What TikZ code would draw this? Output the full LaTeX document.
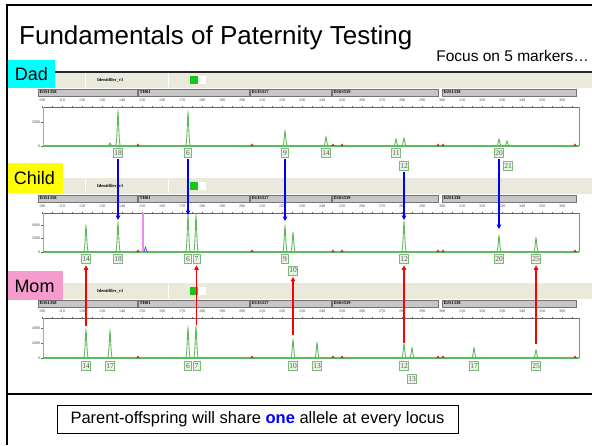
\documentclass[tikz,border=0pt]{standalone}
\usepackage{fontspec}
\setmainfont{Liberation Sans}
\newfontfamily\plotfont{Liberation Serif}
\usetikzlibrary{arrows.meta}

\definecolor{peakgreen}{RGB}{95,185,95}
\definecolor{stripbeige}{RGB}{235,232,220}
\definecolor{bargrey}{RGB}{198,198,198}
\definecolor{labelfill}{RGB}{232,244,228}
\definecolor{labeledge}{RGB}{125,185,125}
\definecolor{dadcyan}{RGB}{0,255,255}
\definecolor{childyellow}{RGB}{255,255,0}
\definecolor{mompink}{RGB}{245,155,205}
\definecolor{markred}{RGB}{200,45,45}
\definecolor{sizepink}{RGB}{240,140,240}
\definecolor{ledgreen}{RGB}{20,200,20}

\tikzset{
  frame/.style={black, line width=2.4pt},
  peak/.style={draw=peakgreen, line width=0.9pt},
  allele/.style={draw=labeledge, fill=labelfill, line width=0.6pt, inner sep=0.7pt,
    minimum height=9pt, minimum width=7pt,
    font=\plotfont\fontsize{7.5}{8}\selectfont, text=black!65},
  who/.style={inner sep=0pt, font=\fontsize{18}{20}\selectfont},
  tiny/.style={inner sep=0pt, font=\plotfont\fontsize{4}{4}\selectfont, text=black!75},
  markerbar/.style={draw=black!55, fill=bargrey, line width=0.4pt},
  dadarrow/.style={draw=blue, line width=1.4pt, shorten <=1.5pt,
    -{Triangle[length=4.5pt,width=4.5pt]}},
  momarrow/.style={draw=red, line width=1.4pt, shorten >=1.5pt,
    -{Triangle[length=4.5pt,width=4.5pt]}},
}

% one electropherogram window: #1 = top of the plot area, #2 = baseline
\newcommand\egpanel[2]{%
  \fill[stripbeige] (52,#1-35) rectangle (592,#1-19);
  \draw[white, line width=0.8pt] (85,#1-34) -- (85,#1-20) (168,#1-34) -- (168,#1-20);
  \node[inner sep=0pt, anchor=west, font=\plotfont\bfseries\fontsize{4.5}{5}\selectfont]
    at (97,#1-27) {Identifiler\_v1};
  \fill[ledgreen] (190,#1-31) rectangle (198,#1-23);
  \fill[white] (198,#1-31) rectangle (206,#1-23);
  \foreach \a/\b/\m in {38/137/D3S1358, 138/249/TH01, 250/331/D13S317,
                        332/438/D16S539, 442/576/D2S1338}{
    \draw[markerbar] (\a,#1-18) rectangle (\b,#1-11);
    \node[inner sep=0pt, anchor=west, font=\plotfont\bfseries\fontsize{4.5}{5}\selectfont]
      at (\a+1.5,#1-14.5) {\m};
  }
  \foreach \v in {100,110,...,360}{
    \node[tiny] at ({42+2*(\v-100)},#1-6.5) {\v};
  }
  \draw[black!60, line width=0.5pt] (43,#1) -- (579,#1);
  \foreach \v in {100,105,...,365}{
    \draw[black!60, line width=0.4pt] ({42+2*(\v-100)},#1-1.2) -- ({42+2*(\v-100)},#1+1.2);
  }
  \draw[black!45, line width=0.5pt] (579,#1) -- (579,#2);
  \draw[black!35, line width=0.4pt] (43,#1) -- (43,#2);
  \draw[peakgreen, line width=1.3pt] (43,#2) -- (579,#2);
  \foreach \x in {138,252,333,342,438,443,575}{
    \fill[markred] (\x-1.6,#2) -- (\x,#2-2.6) -- (\x+1.6,#2) -- cycle;
  }
}

% a peak at x = #1 rising from the baseline #3 to the height #2
\newcommand\pk[3]{%
  \draw[peak] ({#1-2.4},#3) .. controls ({#1-0.9},#3) and ({#1-0.5},#2) .. (#1,#2)
    .. controls ({#1+0.5},#2) and ({#1+0.9},#3) .. ({#1+2.4},#3);
}

% a y axis tick with its value
\newcommand\ytick[2]{%
  \draw[black!60, line width=0.4pt] (40.5,#1) -- (43,#1);
  \node[tiny, anchor=east] at (40,#1) {#2};
}

\begin{document}
\begin{tikzpicture}[x=1pt, y=-1pt]
\useasboundingbox (0,0) rectangle (592,445);

% headings
\node[anchor=base west, inner sep=0pt, font=\fontsize{26}{28}\selectfont]
  (title) at (19,44) {Fundamentals of Paternity Testing};
\node[anchor=base east, inner sep=0pt, font=\fontsize{15.5}{17}\selectfont]
  (focus) at (589,61) {Focus on 5 markers…};

% ---------------- father
\egpanel{107}{146}
\draw[black!85, line width=1.2pt] (52,72) -- (592,72);
\ytick{122}{2000}
\ytick{146}{0}
\pk{110}{143}{146}
\pk{118}{112}{146}
\pk{188}{113}{146}
\pk{285}{131}{146}
\pk{326}{137}{146}
\pk{396}{139}{146}
\pk{404}{138}{146}
\pk{499}{139}{146}
\pk{507}{141}{146}
\node[allele] (d18) at (118,153) {18};
\node[allele] (d6)  at (188,153) {6};
\node[allele] (d9)  at (285,153) {9};
\node[allele] (d14) at (326,153) {14};
\node[allele] (d11) at (396,153) {11};
\node[allele] (d12) at (404,166) {12};
\node[allele] (d20) at (499,153) {20};
\node[allele] (d21) at (508,166) {21};
\fill[dadcyan] (8,60) rectangle (55,88);
\node[who] (dad) at (31.5,74.5) {Dad};

% ---------------- child
\egpanel{213}{252}
\ytick{225}{4000}
\ytick{238}{2000}
\ytick{252}{0}
\draw[sizepink, line width=1.2pt] (143,213) -- (143,252);
\draw[blue!70, line width=0.7pt] (143.5,252) .. controls (144.5,252) and (145,247) .. (145.5,247)
  .. controls (146,247) and (146.5,252) .. (147.5,252);
\pk{86}{226}{252}
\pk{118}{223}{252}
\pk{188}{215}{252}
\pk{196}{216}{252}
\pk{285}{226}{252}
\pk{293}{233}{252}
\pk{404}{222}{252}
\pk{499}{236}{252}
\pk{536}{238}{252}
\node[allele] (c14) at (86,259) {14};
\node[allele] (c18) at (118,259) {18};
\node[allele] (c6)  at (188,259) {6};
\node[allele] (c7)  at (196.5,259) {7};
\node[allele] (c9)  at (285,259) {9};
\node[allele] (c10) at (293,270.5) {10};
\node[allele] (c12) at (404,259) {12};
\node[allele] (c20) at (499,259) {20};
\node[allele] (c25) at (536,259) {25};
\fill[childyellow] (8,163) rectangle (63,193);
\node[who] (child) at (34.5,178) {Child};

% ---------------- mother
\egpanel{318}{358}
\ytick{328}{4000}
\ytick{343}{2000}
\ytick{358}{0}
\pk{86}{330}{358}
\pk{110}{331}{358}
\pk{188}{328}{358}
\pk{196}{327}{358}
\pk{293}{340}{358}
\pk{317}{343}{358}
\pk{404}{344}{358}
\pk{412}{348}{358}
\pk{474}{348}{358}
\pk{536}{350}{358}
\node[allele] (m14) at (86,366) {14};
\node[allele] (m17) at (110,366) {17};
\node[allele] (m6)  at (188,366) {6};
\node[allele] (m7)  at (196.5,366) {7};
\node[allele] (m10) at (293,366) {10};
\node[allele] (m13) at (317,366) {13};
\node[allele] (m12) at (404,366) {12};
\node[allele] (m13b) at (412,379) {13};
\node[allele] (m17b) at (474,366) {17};
\node[allele] (m25) at (536,366) {25};
\fill[mompink] (8,271) rectangle (63,300);
\node[who] (mom) at (34.5,286) {Mom};

% ---------------- inherited alleles
\coordinate (cp18) at (118,220);
\coordinate (cp6)  at (188,215);
\coordinate (cp9)  at (285,221);
\coordinate (cp12) at (404,220);
\coordinate (cp20) at (499,229);
\draw[dadarrow] (d18) -- (cp18);
\draw[dadarrow] (d6) -- (cp6);
\draw[dadarrow] (d9) -- (cp9);
\draw[dadarrow] (d12) -- (cp12);
\draw[dadarrow] (d20) -- (cp20);

\coordinate (mp14) at (86,326);
\coordinate (mp7)  at (196.5,325);
\coordinate (mp10) at (293,335);
\coordinate (mp12) at (404,343);
\coordinate (mp25) at (536,344);
\draw[momarrow] (mp14) -- (c14);
\draw[momarrow] (mp7) -- (c7);
\draw[momarrow] (mp10) -- (c10);
\draw[momarrow] (mp12) -- (c12);
\draw[momarrow] (mp25) -- (c25);

% frame
\draw[frame] (7,445) -- (7,5) -- (592,5);
\draw[frame, line width=2pt] (7,394) -- (592,394);

% conclusion
\node[draw, line width=0.8pt, minimum width=401pt, minimum height=28pt, inner sep=0pt,
  font=\fontsize{16.5}{18}\selectfont] (note) at (257.5,419)
  {Parent-offspring will share \textcolor{blue}{\textbf{one}} allele at every locus};
\end{tikzpicture}
\end{document}
